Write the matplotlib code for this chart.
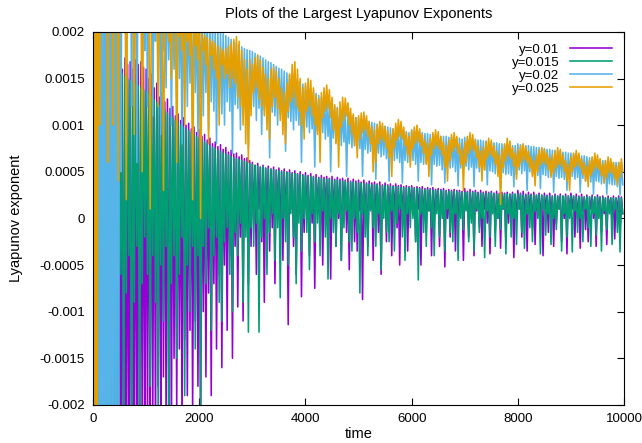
import numpy as np
import matplotlib
matplotlib.use("Agg")
import matplotlib.pyplot as plt

plt.rcParams['font.family'] = ['Liberation Sans', 'DejaVu Sans']

# values, in units of 1e-5, one sample every 25 time units
y010 = [150, -420, 160, -380, 155, -400, 165, -350, 158, -390, 170, -360, 160, -410, 168, -330, 162, -380, 170, -300,
        165, -350, 160, -320, 172, -290, 165, -340, 168, -270, 160, -310, 170, -260, 165, -300, 168, -240, 162, -280,
        160, -230, 150, -260, 155, -200, 140, -240, 145, -180, 130, -250, 135, -170, 125, -220, 128, -160, 118, -240,
        120, -150, 110, -210, 112, -140, 105, -230, 108, -130, 100, -190, 102, -120, 96, -210, 98, -110, 92, -180,
        95, -230, 88, -100, 90, -170, 84, -80, 86, -190, 80, -70, 82, -140, 77, -60, 79, -160, 74, -50,
        76, -120, 71, -40, 73, -150, 69, -30, 70, -95, 66, -20, 68, -110, 64, -10, 65, -70, 62, -30,
        60, -5, 57, -60, 59, 10, 55, -25, 57, -90, 54, 5, 56, -35, 53, -10, 55, -70, 52, 8,
        54, -20, 51, -45, 53, 0, 50, -114, 52, 10, 49, -30, 51, -60, 48, 5, 50, -84, 47, -15,
        49, 10, 46, -40, 48, -5, 45, -75, 47, 8, 44, -20, 46, -50, 44, 10, 45, -10, 43, -65,
        45, 5, 42, -30, 44, 0, 42, -45, 43, 10, 41, -15, 43, -55, 40, 5, 42, -25, 40, -35,
        41, 8, 39, -87, 41, 0, 38, -30, 40, 10, 38, -45, 39, 5, 37, -15, 39, -60, 36, 10,
        38, -25, 36, 0, 37, -40, 35, 8, 37, -10, 35, -50, 36, 5, 34, -20, 35, -35, 34, 10,
        35, 5, 33, -25, 34, 10, 33, -50, 34, 0, 32, -15, 33, 8, 32, -40, 33, -5, 31, 10,
        32, -30, 31, 5, 32, -52, 30, 0, 31, -20, 30, 10, 31, -35, 30, -5, 30, 8, 29, -45,
        32, 10, 29, -20, 31, 0, 29, -40, 30, 8, 28, -10, 30, -30, 28, 10, 29, -5, 28, -38,
        29, 8, 27, -15, 29, 0, 27, -32, 28, 10, 27, -25, 28, -5, 26, 8, 28, -42, 26, 0,
        30, 10, 27, -20, 29, 5, 26, -35, 28, 10, 26, -10, 28, -28, 25, 8, 27, 0, 25, -40,
        27, 10, 25, -15, 27, 5, 24, -30, 26, -5, 24, 10, 26, -25, 24, 0, 26, -38, 24, 8,
        27, 10, 24, -20, 26, 0, 24, -32, 26, 8, 23, -12, 25, -25, 23, 10, 25, 0, 23, -30,
        25, 8, 23, -15, 24, 5, 22, -28, 24, 10, 22, -5, 24, -22, 22, 8, 24, -18, 23, 5]

y015 = [300, -500, 280, -450, 250, -480, 230, -400, 210, -450, 190, -380, 180, -420, 170, -350, 165, -400, 160, -330,
        158, -60, 155, -300, 152, -80, 150, -40, 148, -320, 146, -90, 144, -30, 142, -250, 140, -70, 138, -20,
        136, -60, 133, -180, 130, -40, 127, -90, 124, -210, 121, -50, 118, -110, 116, -30, 113, -250, 110, -70,
        108, -40, 105, -150, 103, -60, 100, -20, 98, -190, 96, -50, 94, -100, 92, -30, 90, -140, 88, -40,
        86, -210, 84, -30, 82, -70, 80, -10, 78, -120, 76, -40, 75, -20, 73, -90, 72, -110, 70, -25,
        69, -10, 68, -60, 66, -100, 65, -15, 64, -40, 63, -5, 62, -90, 61, -20, 60, -122, 59, -10,
        58, -30, 57, -5, 56, -122, 55, -20, 55, 0, 54, -60, 53, -15, 53, 5, 52, -45, 51, -10,
        51, -85, 50, 0, 50, -25, 49, -50, 49, 5, 48, -20, 48, -70, 47, -5, 47, -35, 46, 0,
        46, -15, 45, -55, 45, 5, 44, -25, 44, -5, 43, -40, 43, 8, 42, -20, 42, -65, 42, 0,
        41, -15, 41, -30, 41, 5, 40, -45, 40, -10, 40, 8, 39, -25, 39, -35, 39, 0, 38, -15,
        38, -80, 38, 5, 37, -20, 37, -40, 37, 8, 36, -10, 36, -30, 36, 5, 35, -55, 35, 0,
        35, -15, 35, -25, 34, 8, 34, -35, 34, -5, 34, 10, 33, -20, 33, -45, 33, 5, 33, -10,
        33, 0, 32, -25, 32, -66, 32, 5, 31, -15, 31, -30, 31, 8, 31, -10, 30, -40, 30, 5,
        30, -20, 30, 0, 30, -35, 29, 10, 29, -15, 29, -25, 29, 5, 29, -45, 28, 0, 28, -12,
        28, 8, 28, -25, 28, -5, 28, -35, 28, 10, 27, -15, 27, 0, 27, -42, 27, 8, 27, -20,
        27, 5, 27, -30, 26, 0, 26, -12, 26, 10, 26, -38, 26, 5, 26, -20, 26, 0, 26, -28,
        26, 10, 26, -15, 25, -32, 25, 5, 25, -10, 25, -25, 25, 8, 25, 0, 25, -38, 25, 10,
        24, -18, 24, 5, 24, -28, 24, 0, 24, -12, 24, 10, 24, -35, 24, 5, 24, -20, 24, 0,
        24, -36, 24, 8, 23, -15, 23, 0, 23, -25, 23, 10, 23, -10, 23, -30, 23, 5, 23, -18,
        23, 0, 23, -35, 22, 8, 22, -12, 22, 5, 22, -28, 22, 10, 22, -15, 22, -36, 22, 5]

y020 = [900, -900, 850, -850, 900, -800, 800, -900, 850, -850, 900, -900, 800, -800, 850, -850, 900, -700, 800, -600,
        500, 50, 450, 200, 400, 80, 380, 250, 360, 120, 350, 220, 340, 60, 330, 200, 320, 150, 310, 180,
        300, 120, 295, 200, 290, 110, 285, 190, 280, 150, 275, 90, 270, 180, 265, 140, 260, 170, 255, 100,
        250, 160, 245, 130, 240, 150, 238, 80, 235, 140, 232, 120, 230, 145, 228, 110, 225, 135, 222, 90,
        220, 130, 218, 110, 215, 135, 212, 95, 210, 125, 208, 115, 205, 80, 202, 120, 200, 112, 198, 100,
        196, 125, 194, 115, 192, 70, 190, 122, 188, 118, 186, 95, 184, 120, 182, 115, 181, 75, 180, 118,
        179, 120, 177, 105, 175, 118, 174, 90, 172, 116, 170, 112, 168, 65, 167, 114, 165, 110, 163, 100,
        161, 112, 160, 108, 158, 72, 156, 108, 154, 104, 152, 95, 150, 105, 148, 100, 146, 60, 144, 100,
        142, 98, 140, 92, 138, 96, 136, 55, 134, 94, 132, 90, 130, 92, 128, 85, 126, 88, 124, 50,
        122, 86, 120, 82, 119, 84, 117, 78, 116, 82, 114, 45, 113, 80, 111, 76, 110, 78, 108, 74,
        108, 75, 107, 45, 106, 74, 105, 70, 104, 72, 103, 68, 102, 42, 101, 70, 100, 66, 99, 68,
        99, 64, 98, 40, 97, 66, 96, 62, 96, 64, 95, 60, 94, 38, 94, 62, 93, 60, 92, 61,
        95, 62, 94, 58, 93, 40, 93, 60, 92, 58, 91, 59, 91, 55, 90, 36, 90, 58, 89, 56,
        89, 57, 88, 52, 88, 38, 88, 56, 87, 54, 87, 55, 86, 50, 86, 35, 86, 54, 85, 52,
        87, 56, 86, 52, 86, 55, 85, 34, 85, 54, 84, 50, 84, 53, 83, 52, 83, 36, 82, 51,
        82, 50, 81, 48, 81, 50, 80, 32, 80, 49, 79, 47, 79, 48, 79, 46, 78, 34, 78, 47,
        80, 52, 79, 48, 79, 51, 78, 30, 78, 50, 77, 47, 77, 49, 76, 46, 76, 32, 75, 47,
        75, 46, 74, 44, 74, 46, 73, 28, 73, 45, 72, 43, 72, 44, 71, 42, 71, 30, 70, 43,
        70, 45, 69, 42, 69, 44, 68, 28, 67, 43, 67, 40, 66, 42, 65, 39, 65, 26, 64, 40,
        63, 39, 63, 37, 62, 38, 62, 26, 61, 37, 61, 36, 60, 36, 60, 34, 60, 25, 60, 36]

y025 = [900, -900, 700, -300, 600, 100, 500, 300, 450, 250, 400, 60, 380, 300, 350, 100, 330, 280, 320, 40,
        310, 250, 300, 200, 290, 20, 280, 230, 275, 210, 270, 90, 265, 220, 260, 200, 255, 50, 250, 210,
        250, 230, 248, 10, 245, 220, 242, 200, 240, 120, 238, 215, 235, 30, 232, 205, 230, 190, 228, 150,
        225, 200, 222, 60, 220, 195, 218, 180, 215, 100, 212, 190, 210, 175, 208, 20, 205, 185, 202, 170,
        200, 0, 198, 180, 196, 165, 194, 80, 192, 175, 190, 160, 188, 150, 185, 100, 183, 165, 180, 150,
        182, 155, 185, 140, 188, 150, 192, 145, 195, 130, 190, 120, 180, 100, 170, 80, 160, 60, 170, 110,
        165, 135, 172, 140, 175, 128, 170, 120, 162, 110, 155, 95, 150, 85, 160, 120, 162, 130, 158, 118,
        150, 105, 140, 90, 135, 80, 145, 115, 155, 125, 165, 130, 168, 120, 160, 115, 150, 100, 140, 85,
        145, 115, 150, 120, 148, 110, 140, 100, 132, 90, 128, 60, 135, 108, 140, 115, 143, 118, 138, 108,
        130, 95, 122, 80, 118, 55, 125, 98, 130, 105, 129, 110, 124, 100, 118, 90, 112, 78, 108, 65,
        110, 85, 113, 92, 114, 95, 110, 88, 104, 80, 98, 50, 95, 60, 100, 80, 104, 85, 102, 82,
        98, 75, 94, 65, 90, 45, 96, 76, 102, 84, 106, 88, 104, 85, 98, 78, 92, 68, 88, 55,
        94, 75, 98, 80, 100, 82, 96, 78, 90, 70, 84, 58, 80, 45, 86, 68, 92, 75, 95, 78,
        93, 74, 88, 68, 82, 55, 78, 40, 84, 62, 90, 72, 92, 76, 88, 70, 80, 58, 74, 30,
        82, 60, 88, 70, 92, 74, 90, 72, 84, 65, 78, 55, 72, 40, 76, 52, 82, 64, 86, 68,
        84, 66, 78, 58, 72, 45, 68, 15, 74, 54, 80, 62, 86, 67, 83, 64, 76, 56, 70, 42,
        74, 55, 78, 60, 80, 63, 77, 60, 72, 54, 66, 45, 62, 35, 68, 50, 73, 57, 76, 60,
        74, 58, 70, 52, 65, 44, 68, 48, 72, 54, 76, 58, 74, 56, 68, 50, 62, 40, 58, 30,
        66, 50, 70, 55, 73, 57, 70, 54, 64, 47, 60, 40, 56, 34, 62, 46, 66, 50, 70, 54,
        68, 52, 64, 46, 58, 38, 62, 44, 66, 49, 64, 48, 60, 42, 56, 36, 60, 44, 64, 50]

labels = ['y=0.01', 'y=0.015', 'y=0.02', 'y=0.025']
colors = ['#9400d3', '#009e73', '#56b4e9', '#e69f00']
yticks = [-0.002, -0.0015, -0.001, -0.0005, 0, 0.0005, 0.001, 0.0015, 0.002]
xticks = [0, 2000, 4000, 6000, 8000, 10000]

fig = plt.figure(figsize=(6.42, 4.43), dpi=100)
ax = fig.add_axes([0.145, 0.086, 0.827, 0.842])

for vals, lab, c in zip([y010, y015, y020, y025], labels, colors):
    assert len(vals) == 400, (lab, len(vals))
    v = np.array(vals) * 1e-5
    t = np.arange(len(v)) * 25
    ax.plot(t, v, color=c, lw=1.15, label=lab)

ax.set_xlim(0, 10000)
ax.set_ylim(-0.002, 0.002)
ax.set_xticks(xticks)
ax.set_yticks(yticks)
ax.set_yticklabels(['%g' % v for v in yticks])
ax.tick_params(direction='in', top=True, right=True, length=5, labelsize=9.5, pad=6)
ax.set_xlabel('time', fontsize=10.5, labelpad=1)
ax.set_ylabel('Lyapunov exponent', fontsize=10.5, labelpad=12)
ax.set_title('Plots of the Largest Lyapunov Exponents', fontsize=10.5, pad=10)
ax.legend(loc='upper right', frameon=False, markerfirst=False, fontsize=9.5,
          handlelength=3.2, labelspacing=0.05, borderaxespad=0.5)
leg = ax.get_legend()
for txt in leg.get_texts():
    txt.set_ha('right')

fig.savefig('out.png', dpi=100)
